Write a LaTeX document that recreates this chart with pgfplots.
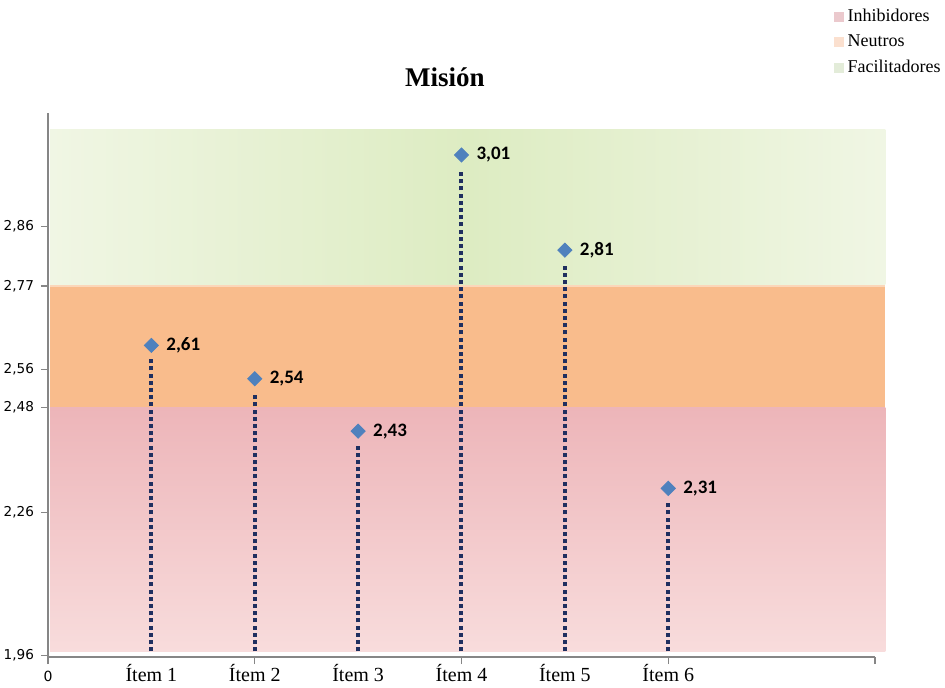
\documentclass[border=0pt]{standalone}
\usepackage{pgfplots}
\pgfplotsset{compat=1.18}
\usepackage{pgfplotstable}
\usepackage{fontspec}
\setmainfont{Liberation Serif}
\newfontfamily\verd{DejaVu Sans}
\newfontfamily\calib{Carlito}

\definecolor{redtop}{HTML}{EDB5B9}
\definecolor{redbot}{HTML}{F8DCDC}
\definecolor{orband}{HTML}{F9BC8C}
\definecolor{grside}{HTML}{F0F6E4}
\definecolor{grmid}{HTML}{DDECC2}
\definecolor{markblue}{HTML}{4F81BD}
\definecolor{stemcol}{HTML}{1F2F60}
\definecolor{axgray}{HTML}{868686}
\definecolor{legred}{HTML}{EBC9CD}
\definecolor{legora}{HTML}{FBE0CF}
\definecolor{leggre}{HTML}{E3ECD9}

% promedios por item
\pgfplotstableread{
x y lab
1 2.61 2,61
2 2.54 2,54
3 2.43 2,43
4 3.01 3,01
5 2.81 2,81
6 2.31 2,31
}\datos

% lineas punteadas (base -> bajo el marcador)
\pgfplotstableread{
x y
1 1.968
1 2.582
1 nan
2 1.968
2 2.512
2 nan
3 1.968
3 2.402
3 nan
4 1.968
4 2.975
4 nan
5 1.968
5 2.782
5 nan
6 1.968
6 2.282
}\tallos

\begin{document}
\begin{tikzpicture}
\begin{axis}[
    name=ax,
    scale only axis,
    width=413.5pt, height=272pt,
    xmin=0, xmax=8,
    ymin=1.956, ymax=3.098,
    clip=false,
    axis on top,
    axis x line=bottom, axis y line=left,
    axis line style={-, draw=axgray, line width=0.6pt},
    tick style={draw=axgray, line width=0.6pt},
    tick align=outside,
    xtick={0,1,2,3,4,5,6},
    xticklabels={{\vphantom{Í}\verd\fontsize{7}{8}\selectfont 0},Ítem 1,Ítem 2,Ítem 3,Ítem 4,Ítem 5,Ítem 6},
    major x tick style={draw=none},
    minor xtick={0,2,4,6,8},
    minor tick length=3.5pt,
    xticklabel style={font=\fontsize{10}{11}\selectfont, yshift=3.5pt},
    ytick={1.96,2.26,2.48,2.56,2.735,2.86},
    yticklabels={{1,96},{2,26},{2,48},{2,56},{2,77},{2,86}},
    yticklabel style={font=\verd\fontsize{6.8}{8}\selectfont},
    major tick length=3.5pt,
    unbounded coords=jump,
    title={Misión},
    title style={at={(0.48,1.044)}, anchor=center, font=\bfseries\fontsize{13.5}{16}\selectfont},
    legend style={at={(1.0846,1.199)}, anchor=north east, draw=none, fill=none,
        font=\fontsize{9}{10}\selectfont, row sep=1.2pt, inner sep=0pt},
    legend cell align=left,
    legend image code/.code={\path[#1, draw=none] (0pt,-2.5pt) rectangle (5pt,2.5pt);},
]
% franjas
\fill[top color=redtop, bottom color=redbot] (axis cs:0.02,1.968) rectangle (axis cs:8.1,2.48);
\fill[orband] (axis cs:0.02,2.48) rectangle (axis cs:8.1,2.735);
\draw[orband!60!white, line width=1pt] (axis cs:0.02,2.735) -- (axis cs:8.1,2.735);
\fill[left color=grside, right color=grside, middle color=grmid] (axis cs:0.02,2.737) rectangle (axis cs:8.1,3.063);

\addlegendimage{fill=legred}
\addlegendentry{Inhibidores}
\addlegendimage{fill=legora}
\addlegendentry{Neutros}
\addlegendimage{fill=leggre}
\addlegendentry{Facilitadores}

\addplot[forget plot, stemcol, line width=2pt, dash pattern=on 2pt off 1.6pt] table[x=x,y=y] {\tallos};
\addplot[forget plot, only marks, mark=square*, mark size=2.5pt,
    mark options={rotate=45, fill=markblue, draw=markblue},
    point meta=explicit symbolic,
    nodes near coords,
    nodes near coords style={anchor=west, xshift=4pt, font=\calib\bfseries\fontsize{9.5}{11}\selectfont, text=black}]
    table[x=x,y=y,meta=lab] {\datos};
\end{axis}
\pgfresetboundingbox
\path[use as bounding box] ([shift={(-24pt,-15pt)}]ax.south west) rectangle ([shift={(448.5pt,328.5pt)}]ax.south west);
\end{tikzpicture}
\end{document}
